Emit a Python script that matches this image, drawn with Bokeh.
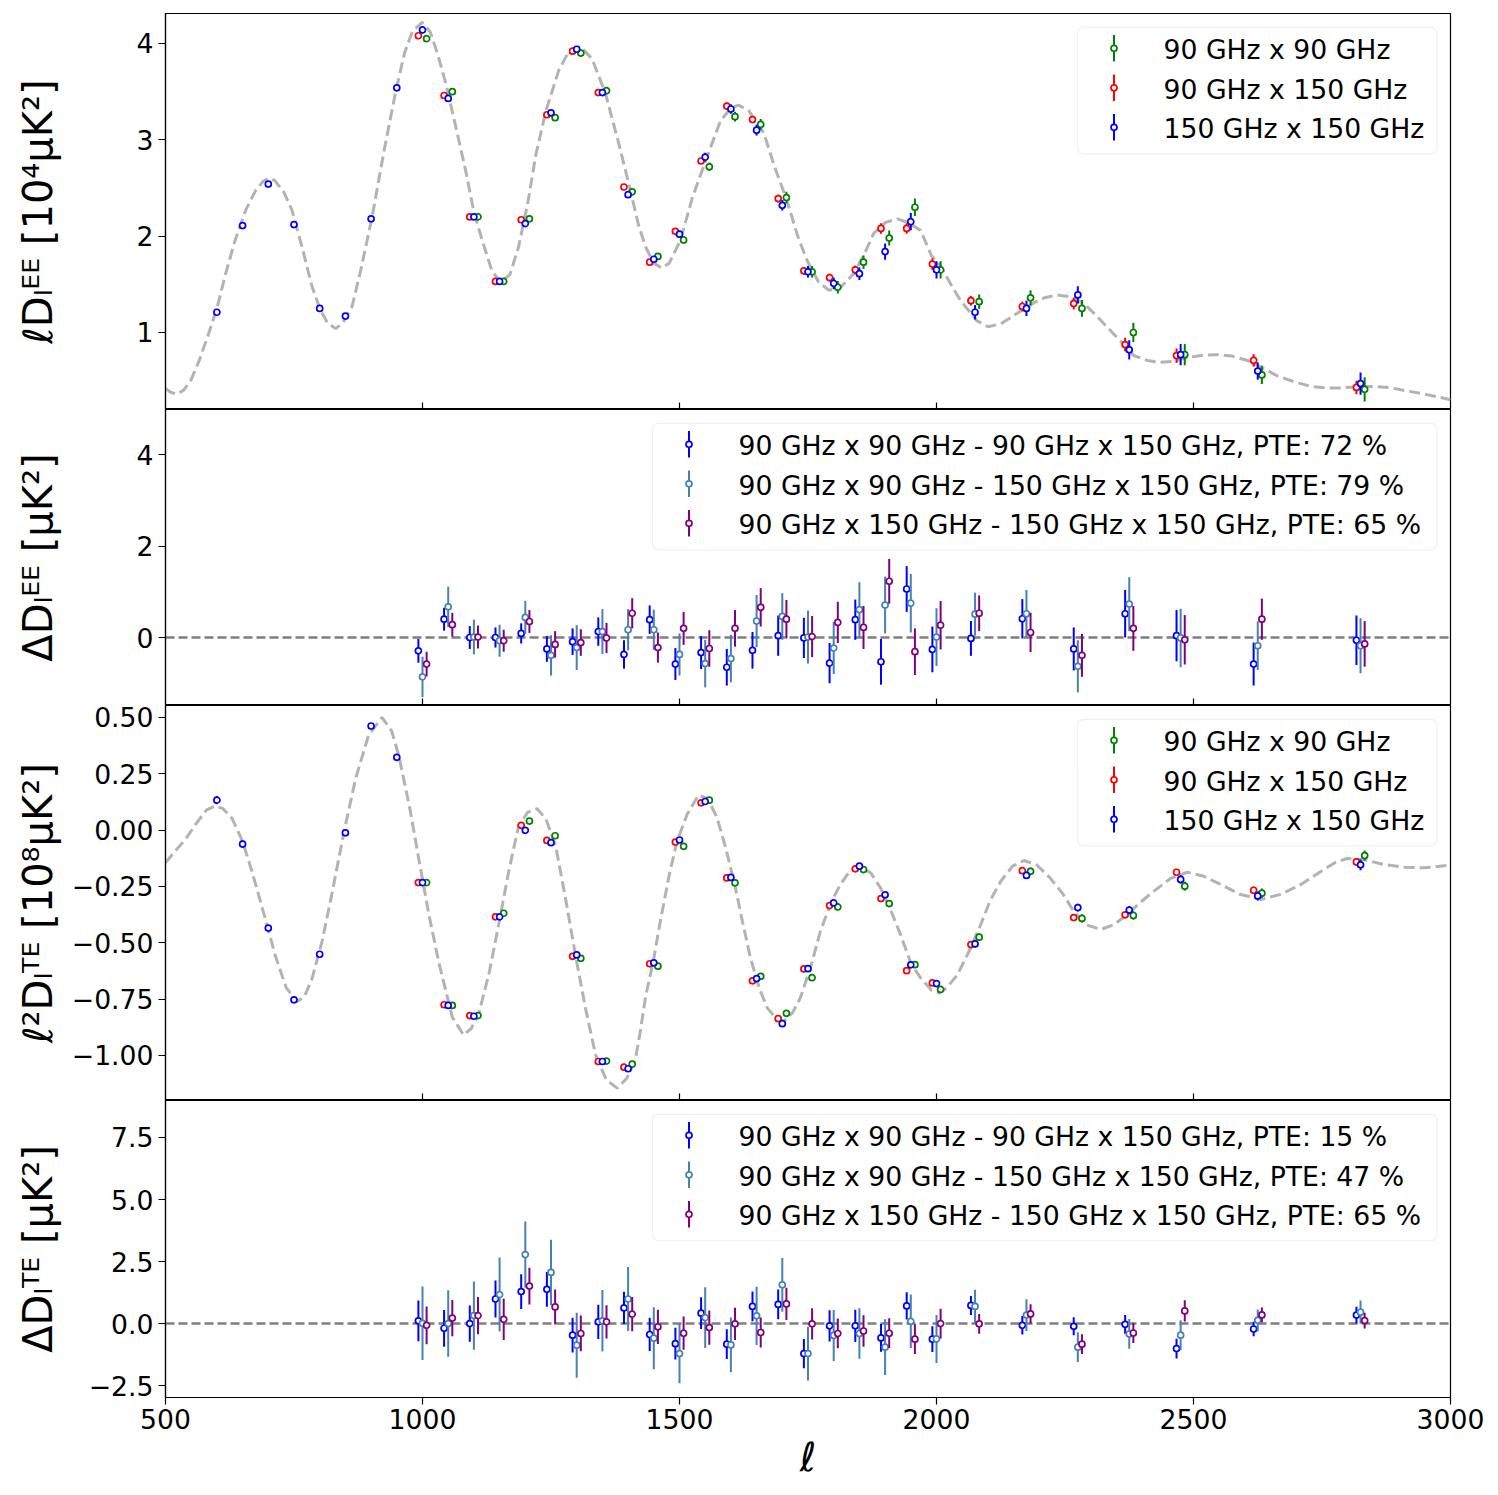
import numpy as np
from bokeh.plotting import figure
from bokeh.models import (Range1d, FixedTicker, CustomJSTickFormatter, Span,
                          BoxAnnotation, Label, ColumnDataSource)
from bokeh.layouts import column
from bokeh.embed import file_html
from bokeh.resources import INLINE

# ---------------- data ----------------
ell_low = [600, 650, 700, 750, 800, 850, 900, 950]
ell_bins = [1000, 1050, 1100, 1150, 1200, 1250, 1300, 1350, 1400, 1450, 1500,
            1550, 1600, 1650, 1700, 1750, 1800, 1850, 1900, 1950, 2000,
            2075, 2175, 2275, 2375, 2475, 2625, 2825]
x_shift = [-8, 0, 8]
x_ticks = [500, 1000, 1500, 2000, 2500, 3000]

# theory curves
ell_th_ee = [500, 510, 522, 535, 549, 565, 584, 600, 617, 635, 656, 675, 690, 701, 712, 730, 746,
             765, 785, 800, 815, 831, 845, 863, 880, 902, 925, 947, 965, 980, 999, 1015, 1030,
             1045, 1065, 1084, 1100, 1116, 1135, 1152, 1170, 1187, 1205, 1220, 1240, 1265, 1285,
             1307, 1330, 1356, 1380, 1401, 1420, 1434, 1450, 1465, 1480, 1502, 1525, 1554, 1580,
             1600, 1615, 1635, 1664, 1685, 1709, 1730, 1748, 1770, 1790, 1810, 1839, 1860, 1878,
             1900, 1924, 1945, 1969, 1990, 2008, 2030, 2047, 2079, 2100, 2125, 2157, 2190, 2210,
             2235, 2260, 2287, 2310, 2332, 2360, 2384, 2410, 2436, 2462, 2488, 2520, 2547, 2575,
             2605, 2635, 2663, 2695, 2728, 2760, 2786, 2820, 2851, 2880, 2903, 2950, 2994, 3000]
ee_th = [0.42, 0.38, 0.36, 0.40, 0.50, 0.70, 0.99, 1.25, 1.61, 1.95, 2.27, 2.47, 2.57, 2.60, 2.58,
         2.46, 2.27, 1.90, 1.48, 1.25, 1.10, 1.04, 1.10, 1.27, 1.65, 2.20, 2.88, 3.48, 3.90, 4.12,
         4.22, 4.12, 3.88, 3.59, 3.13, 2.68, 2.25, 1.96, 1.64, 1.52, 1.60, 1.89, 2.35, 2.83, 3.30,
         3.72, 3.92, 3.97, 3.84, 3.48, 3.00, 2.55, 2.12, 1.89, 1.72, 1.67, 1.72, 1.96, 2.40, 2.83,
         3.20, 3.33, 3.36, 3.30, 3.07, 2.72, 2.37, 2.00, 1.75, 1.53, 1.44, 1.45, 1.61, 1.82, 2.03,
         2.14, 2.18, 2.14, 2.06, 1.80, 1.69, 1.48, 1.33, 1.12, 1.06, 1.09, 1.20, 1.31, 1.36, 1.39,
         1.37, 1.30, 1.18, 1.055, 0.90, 0.76, 0.71, 0.69, 0.70, 0.74, 0.765, 0.77, 0.755, 0.71,
         0.63, 0.55, 0.49, 0.44, 0.425, 0.425, 0.435, 0.44, 0.43, 0.405, 0.36, 0.31, 0.30]

ell_th_te = [500, 520, 539, 560, 580, 597, 612, 630, 650, 669, 690, 714, 735, 756, 770, 785, 805,
             824, 848, 870, 895, 921, 940, 954, 975, 993, 1012, 1032, 1058, 1080, 1095, 1110, 1130,
             1149, 1168, 1187, 1205, 1223, 1240, 1259, 1278, 1298, 1318, 1337, 1358, 1379, 1398,
             1414, 1424, 1434, 1450, 1463, 1480, 1495, 1515, 1537, 1555, 1573, 1590, 1606, 1622,
             1638, 1655, 1671, 1688, 1703, 1720, 1735, 1755, 1774, 1795, 1813, 1832, 1852, 1872,
             1891, 1910, 1930, 1950, 1969, 1990, 2005, 2020, 2041, 2065, 2086, 2105, 2125, 2148,
             2170, 2195, 2220, 2245, 2267, 2290, 2320, 2345, 2371, 2397, 2423, 2455, 2488, 2520,
             2553, 2590, 2631, 2670, 2709, 2750, 2775, 2799, 2830, 2871, 2910, 2949, 2975, 3000]
te_th = [-0.145, -0.09, -0.04, 0.03, 0.09, 0.107, 0.095, 0.05, -0.05, -0.19, -0.36, -0.56, -0.70,
         -0.76, -0.74, -0.66, -0.49, -0.28, 0.0, 0.23, 0.42, 0.50, 0.44, 0.33, 0.10, -0.13, -0.37,
         -0.59, -0.83, -0.91, -0.88, -0.81, -0.63, -0.41, -0.18, 0.018, 0.08, 0.095, 0.05, -0.07,
         -0.30, -0.56, -0.80, -1.00, -1.11, -1.145, -1.10, -1.02, -0.89, -0.74, -0.57, -0.40,
         -0.20, -0.05, 0.07, 0.156, 0.14, 0.055, -0.08, -0.227, -0.40, -0.567, -0.70, -0.79,
         -0.835, -0.849, -0.81, -0.745, -0.61, -0.449, -0.32, -0.241, -0.18, -0.164, -0.19,
         -0.256, -0.35, -0.464, -0.59, -0.656, -0.71, -0.723, -0.70, -0.641, -0.53, -0.419,
         -0.31, -0.227, -0.16, -0.135, -0.155, -0.21, -0.28, -0.36, -0.42, -0.441, -0.42, -0.375,
         -0.32, -0.271, -0.215, -0.187, -0.205, -0.241, -0.285, -0.308, -0.285, -0.241, -0.18,
         -0.145, -0.126, -0.13, -0.153, -0.165, -0.167, -0.162, -0.155]

# panel 1: l D_l^EE [1e4 uK^2]
ee_low_150x150 = [1.21, 2.11, 2.54, 2.12, 1.25, 1.17, 2.18, 3.54]
ee_low_150x150_err = [0.012, 0.014, 0.015, 0.015, 0.014, 0.014, 0.016, 0.020]
ee_90x90 = [4.05, 3.50, 2.20, 1.53, 2.18, 3.23, 3.90, 3.51, 2.46, 1.79, 1.96, 2.72, 3.24, 3.16,
            2.40, 1.63, 1.47, 1.73, 1.98, 2.30, 1.65, 1.32, 1.36, 1.25, 1.00, 0.77, 0.56, 0.41]
ee_90x90_err = [0.03, 0.03, 0.03, 0.03, 0.03, 0.035, 0.035, 0.035, 0.035, 0.035, 0.04, 0.045,
                0.05, 0.055, 0.06, 0.06, 0.065, 0.07, 0.078, 0.09, 0.09, 0.075, 0.078, 0.087,
                0.10, 0.11, 0.095, 0.125]
ee_90x150 = [4.08, 3.46, 2.20, 1.53, 2.17, 3.26, 3.92, 3.49, 2.51, 1.73, 2.05, 2.78, 3.35, 3.21,
             2.39, 1.64, 1.57, 1.65, 2.08, 2.08, 1.71, 1.33, 1.27, 1.30, 0.875, 0.76, 0.71, 0.43]
ee_90x150_err = [0.02, 0.02, 0.02, 0.02, 0.02, 0.02, 0.02, 0.02, 0.025, 0.025, 0.025, 0.03,
                 0.035, 0.035, 0.04, 0.04, 0.04, 0.045, 0.055, 0.055, 0.06, 0.05, 0.05, 0.06,
                 0.07, 0.075, 0.065, 0.07]
ee_150x150 = [4.14, 3.43, 2.20, 1.53, 2.13, 3.28, 3.94, 3.49, 2.43, 1.76, 2.02, 2.82, 3.32, 3.10,
              2.32, 1.63, 1.51, 1.61, 1.84, 2.15, 1.65, 1.21, 1.25, 1.39, 0.82, 0.77, 0.60, 0.47]
ee_150x150_err = [0.035, 0.03, 0.03, 0.03, 0.03, 0.03, 0.03, 0.03, 0.03, 0.03, 0.035, 0.045,
                  0.05, 0.055, 0.055, 0.06, 0.06, 0.065, 0.085, 0.09, 0.09, 0.075, 0.08, 0.09,
                  0.10, 0.11, 0.09, 0.115]

# panel 2: Delta D_l^EE [uK^2]
dee_a = [-0.29, 0.40, 0.00, 0.00, 0.09, -0.25, -0.09, 0.13, -0.37, 0.39, -0.58, -0.33, -0.65,
         -0.28, 0.04, -0.01, -0.56, 0.39, -0.53, 1.06, -0.26, -0.02, 0.41, -0.25, 0.52, 0.04,
         -0.58, -0.06]
dee_a_err = [0.26, 0.25, 0.25, 0.22, 0.22, 0.28, 0.29, 0.31, 0.31, 0.31, 0.35, 0.36, 0.40, 0.40,
             0.44, 0.44, 0.44, 0.44, 0.50, 0.50, 0.50, 0.38, 0.43, 0.47, 0.52, 0.56, 0.47, 0.54]
dee_b = [-0.86, 0.67, 0.01, -0.07, 0.44, -0.39, -0.22, 0.13, 0.17, 0.17, -0.37, -0.57, -0.46,
         0.36, 0.46, 0.01, -0.23, 0.61, 0.71, 0.75, 0.01, 0.51, 0.52, -0.63, 0.73, -0.01, -0.18,
         -0.18]
dee_b_err = [0.44, 0.44, 0.38, 0.35, 0.36, 0.44, 0.49, 0.49, 0.45, 0.44, 0.46, 0.52, 0.52, 0.57,
             0.51, 0.58, 0.57, 0.60, 0.62, 0.64, 0.63, 0.47, 0.52, 0.57, 0.59, 0.64, 0.53, 0.60]
dee_c = [-0.58, 0.28, 0.01, -0.07, 0.35, -0.15, -0.11, -0.01, 0.53, -0.22, 0.20, -0.24, 0.20,
         0.66, 0.40, 0.02, 0.33, 0.22, 1.23, -0.31, 0.27, 0.53, 0.11, -0.39, 0.20, -0.05, 0.40,
         -0.14]
dee_c_err = [0.27, 0.26, 0.25, 0.24, 0.25, 0.29, 0.29, 0.33, 0.33, 0.33, 0.36, 0.40, 0.40, 0.42,
             0.42, 0.45, 0.45, 0.47, 0.49, 0.51, 0.53, 0.39, 0.43, 0.47, 0.49, 0.54, 0.45, 0.50]

# panel 3: l^2 D_l^TE [1e8 uK^2]
te_low_150x150 = [0.133, -0.062, -0.435, -0.753, -0.551, -0.012, 0.462, 0.323]
te_low_150x150_err = [0.018, 0.016, 0.014, 0.012, 0.012, 0.012, 0.012, 0.012]
te_90x90 = [-0.233, -0.778, -0.823, -0.369, 0.040, -0.025, -0.569, -1.025, -1.039, -0.604,
            -0.072, 0.133, -0.234, -0.649, -0.813, -0.655, -0.341, -0.175, -0.326, -0.597,
            -0.707, -0.475, -0.183, -0.392, -0.379, -0.249, -0.280, -0.113]
te_90x90_err = [0.008, 0.008, 0.008, 0.008, 0.009, 0.009, 0.009, 0.009, 0.010, 0.010, 0.011,
                0.011, 0.012, 0.012, 0.013, 0.013, 0.013, 0.014, 0.014, 0.015, 0.015, 0.016,
                0.017, 0.018, 0.019, 0.020, 0.021, 0.022]
te_90x150 = [-0.233, -0.775, -0.823, -0.385, 0.021, -0.046, -0.560, -1.027, -1.052, -0.593,
             -0.053, 0.121, -0.212, -0.669, -0.837, -0.616, -0.335, -0.172, -0.304, -0.624,
             -0.678, -0.508, -0.180, -0.388, -0.376, -0.187, -0.267, -0.141]
te_90x150_err = [0.006, 0.006, 0.006, 0.006, 0.006, 0.007, 0.007, 0.007, 0.007, 0.008, 0.008,
                 0.008, 0.009, 0.009, 0.009, 0.010, 0.010, 0.010, 0.011, 0.011, 0.011, 0.012,
                 0.013, 0.013, 0.014, 0.015, 0.016, 0.017]
te_150x150 = [-0.233, -0.778, -0.826, -0.385, -0.001, -0.056, -0.554, -1.027, -1.059, -0.589,
              -0.044, 0.127, -0.210, -0.659, -0.859, -0.615, -0.323, -0.160, -0.287, -0.598,
              -0.681, -0.505, -0.201, -0.344, -0.355, -0.219, -0.292, -0.154]
te_150x150_err = [0.008, 0.008, 0.008, 0.008, 0.008, 0.008, 0.009, 0.009, 0.009, 0.010, 0.010,
                  0.010, 0.011, 0.011, 0.012, 0.012, 0.012, 0.013, 0.013, 0.014, 0.014, 0.015,
                  0.016, 0.017, 0.018, 0.019, 0.020, 0.024]

# panel 4: Delta D_l^TE [uK^2]
dte_a = [0.11, -0.19, 0.00, 0.99, 1.29, 1.38, -0.47, 0.07, 0.63, -0.44, -0.81, 0.42, -0.83, 0.69,
         0.77, -1.21, -0.09, -0.09, -0.58, 0.71, -0.63, 0.73, -0.07, -0.11, -0.03, -1.01, -0.22,
         0.34]
dte_a_err = [0.82, 0.74, 0.73, 0.75, 0.70, 0.70, 0.70, 0.69, 0.65, 0.67, 0.64, 0.64, 0.60, 0.60,
             0.60, 0.59, 0.63, 0.65, 0.56, 0.55, 0.52, 0.38, 0.37, 0.36, 0.38, 0.40, 0.29, 0.34]
dte_b = [0.01, 0.00, 0.32, 1.17, 2.78, 2.06, -0.87, 0.11, 0.99, -0.59, -1.21, 0.24, -0.86, 0.31,
         1.56, -1.21, -0.48, -0.40, -0.95, 0.09, -0.62, 0.69, 0.34, -0.95, -0.42, -0.47, 0.13,
         0.46]
dte_b_err = [1.48, 1.34, 1.38, 1.49, 1.33, 1.32, 1.31, 1.24, 1.29, 1.25, 1.20, 1.22, 1.10, 1.17,
             1.08, 1.08, 1.03, 1.02, 1.12, 1.08, 0.97, 0.67, 0.64, 0.60, 0.60, 0.60, 0.44, 0.47]
dte_c = [-0.07, 0.22, 0.32, 0.17, 1.51, 0.67, -0.40, 0.07, 0.38, -0.13, -0.39, -0.16, -0.01,
         -0.36, 0.79, -0.01, -0.40, -0.30, -0.39, -0.63, 0.00, -0.01, 0.39, -0.83, -0.38, 0.51,
         0.35, 0.12]
dte_c_err = [0.76, 0.73, 0.75, 0.83, 0.74, 0.70, 0.72, 0.67, 0.69, 0.69, 0.67, 0.69, 0.65, 0.60,
             0.65, 0.63, 0.60, 0.63, 0.60, 0.60, 0.60, 0.40, 0.39, 0.40, 0.40, 0.43, 0.30, 0.32]

auto_labels = ["90 GHz x 90 GHz", "90 GHz x 150 GHz", "150 GHz x 150 GHz"]
auto_colors = ["green", "red", "blue"]
diff_colors = ["blue", "steelblue", "purple"]
pte_ee = [72, 79, 65]
pte_te = [15, 47, 65]
diff_names = ["90 GHz x 90 GHz - 90 GHz x 150 GHz",
              "90 GHz x 90 GHz - 150 GHz x 150 GHz",
              "90 GHz x 150 GHz - 150 GHz x 150 GHz"]

# ---------------- styling ----------------
FONT = "DejaVu Sans"
TICK_FS = "26.67px"
LABEL_FS = "40px"
LEG_FS = "26.67px"
FW = 1285
XR = (500, 3000)
MS = 6.0
MLW = 1.7
ELW = 2.0
LEFT = 165


def make_fig(yr, fh, top, bottom, ticks, ylabel, fmt_code, label_standoff, last=False):
    p = figure(x_range=Range1d(*XR), y_range=Range1d(*yr), frame_width=FW, frame_height=fh,
               min_border_left=LEFT, min_border_right=36, min_border_top=top,
               min_border_bottom=bottom, output_backend="svg", toolbar_location=None)
    p.xgrid.visible = False
    p.ygrid.visible = False
    p.background_fill_color = "white"
    p.border_fill_color = "white"
    p.outline_line_color = "black"
    p.outline_line_width = 1.2
    ya = p.yaxis[0]
    ya.ticker = FixedTicker(ticks=ticks)
    ya.formatter = CustomJSTickFormatter(code=fmt_code)
    ya.major_tick_out = 7
    ya.major_tick_in = 0
    ya.minor_tick_out = 0
    ya.minor_tick_in = 0
    ya.minor_tick_line_color = None
    ya.major_tick_line_width = 1.2
    ya.axis_line_width = 1.2
    ya.major_label_standoff = 5
    ya.major_label_text_font = FONT
    ya.major_label_text_font_size = TICK_FS
    ya.major_label_text_color = "black"
    ya.axis_label = ylabel
    ya.axis_label_text_font = FONT
    ya.axis_label_text_font_size = LABEL_FS
    ya.axis_label_text_font_style = "normal"
    ya.axis_label_text_color = "black"
    ya.axis_label_standoff = label_standoff
    xa = p.xaxis[0]
    if last:
        xa.ticker = FixedTicker(ticks=x_ticks)
        xa.minor_tick_out = 0
        xa.minor_tick_in = 0
        xa.minor_tick_line_color = None
        xa.major_tick_line_width = 1.2
        xa.axis_line_width = 1.2
        xa.major_tick_out = 7
        xa.major_tick_in = 0
        xa.major_label_standoff = 4
        xa.major_label_text_font = FONT
        xa.major_label_text_font_size = TICK_FS
        xa.major_label_text_color = "black"
        xa.axis_label = "ℓ"
        xa.axis_label_text_font = FONT
        xa.axis_label_text_font_size = LABEL_FS
        xa.axis_label_text_font_style = "italic"
        xa.axis_label_text_color = "black"
        xa.axis_label_standoff = 2
    else:
        xa.visible = False
        # inward tick marks along the shared bottom edge
        y0, y1 = yr
        tl = 7.0 * (y1 - y0) / fh
        inner = x_ticks[1:-1]
        p.segment(x0=inner, y0=[y0] * len(inner), x1=inner, y1=[y0 + tl] * len(inner),
                  line_color="black", line_width=1.2)
    return p


def errorbar(p, x, y, e, color):
    x = np.asarray(x, float)
    y = np.asarray(y, float)
    e = np.asarray(e, float)
    src = ColumnDataSource(dict(x=x, y=y, lo=y - e, hi=y + e))
    p.segment(x0="x", y0="lo", x1="x", y1="hi", source=src, line_color=color,
              line_width=ELW)
    p.scatter("x", "y", source=src, marker="circle", size=MS, line_color=color,
              line_width=MLW, fill_color="white")


def add_legend(p, labels, colors, box_left_px):
    y0, y1 = p.y_range.start, p.y_range.end
    fh = p.frame_height
    sx = (XR[1] - XR[0]) / FW
    sy = (y1 - y0) / fh
    X = lambda px: XR[0] + px * sx
    Y = lambda py: y1 - py * sy
    top = 13.8
    h = 126.5
    right = FW - 13.5
    p.add_layout(BoxAnnotation(left=X(box_left_px), right=X(right), top=Y(top),
                               bottom=Y(top + h), fill_color="white", fill_alpha=0.8,
                               line_color="#cccccc", line_width=1.2, border_radius=6,
                               level="underlay"))
    for i, (lab, col) in enumerate(zip(labels, colors)):
        ry = top + 21.0 + 39.5 * i
        mx = X(box_left_px + 36.5)
        p.segment(x0=[mx], y0=[Y(ry - 13.3)], x1=[mx], y1=[Y(ry + 13.3)],
                  line_color=col, line_width=ELW)
        p.scatter([mx], [Y(ry)], marker="circle", size=MS, line_color=col,
                  line_width=MLW, fill_color="white")
        p.add_layout(Label(x=X(box_left_px + 86), y=Y(ry + 1.5), text=lab,
                           text_baseline="middle", text_align="left", text_font=FONT,
                           text_font_size=LEG_FS, text_color="black"))


def shifted(k, xs):
    return [v + x_shift[k] for v in xs]


TH_KW = dict(line_color="#b3b3b3", line_width=3, line_dash="11 5")
ZERO_KW = dict(location=0, dimension="width", line_color="#7f7f7f", line_width=2.5,
               line_dash="9 4", level="underlay")

fmt2 = "return tick.toFixed(2).replace('-', '\u2212');"
fmt1 = "return tick.toFixed(1).replace('-', '\u2212');"
fmt0 = "return tick.toFixed(0).replace('-', '\u2212');"

# panel 1
p1 = make_fig((0.2007, 4.311), 396, 13, 0, [1, 2, 3, 4], "ℓDₗᴱᴱ [10⁴μK²]", fmt0, 73)
p1.line(ell_th_ee, ee_th, **TH_KW)
errorbar(p1, shifted(2, ell_bins), ee_90x90, ee_90x90_err, "green")
errorbar(p1, shifted(0, ell_bins), ee_90x150, ee_90x150_err, "red")
errorbar(p1, ell_low, ee_low_150x150, ee_low_150x150_err, "blue")
errorbar(p1, shifted(1, ell_bins), ee_150x150, ee_150x150_err, "blue")
add_legend(p1, auto_labels, auto_colors, 912)

# panel 2
p2 = make_fig((-1.486, 4.984), 296, 0, 0, [0, 2, 4], "ΔDₗᴱᴱ [μK²]", fmt0, 73)
p2.add_layout(Span(**ZERO_KW))
errorbar(p2, shifted(0, ell_bins), dee_a, dee_a_err, diff_colors[0])
errorbar(p2, shifted(1, ell_bins), dee_b, dee_b_err, diff_colors[1])
errorbar(p2, shifted(2, ell_bins), dee_c, dee_c_err, diff_colors[2])
add_legend(p2, ["%s, PTE: %d %%" % (n, v) for n, v in zip(diff_names, pte_ee)],
           diff_colors, 487)

# panel 3 (small transparent top border that overlaps panel 2, so "0.50" is not clipped)
p3 = make_fig((-1.2, 0.553), 395, 10, 0, [-1.0, -0.75, -0.5, -0.25, 0.0, 0.25, 0.5],
              "ℓ²Dₗᵀᴱ [10⁸μK²]", fmt2, 8)
p3.border_fill_alpha = 0.0
p3.margin = (-10, 0, 0, 0)
p3.line(ell_th_te, te_th, **TH_KW)
errorbar(p3, shifted(2, ell_bins), te_90x90, te_90x90_err, "green")
errorbar(p3, shifted(0, ell_bins), te_90x150, te_90x150_err, "red")
errorbar(p3, ell_low, te_low_150x150, te_low_150x150_err, "blue")
errorbar(p3, shifted(1, ell_bins), te_150x150, te_150x150_err, "blue")
add_legend(p3, auto_labels, auto_colors, 912)

# panel 4
p4 = make_fig((-2.98, 8.99), 297, 0, 0, [-2.5, 0.0, 2.5, 5.0, 7.5], "ΔDₗᵀᴱ [μK²]", fmt1, 25,
              last=True)
p4.add_layout(Span(**ZERO_KW))
errorbar(p4, shifted(0, ell_bins), dte_a, dte_a_err, diff_colors[0])
errorbar(p4, shifted(1, ell_bins), dte_b, dte_b_err, diff_colors[1])
errorbar(p4, shifted(2, ell_bins), dte_c, dte_c_err, diff_colors[2])
add_legend(p4, ["%s, PTE: %d %%" % (n, v) for n, v in zip(diff_names, pte_te)],
           diff_colors, 487)

layout = column(p1, p2, p3, p4, spacing=0)
open("out.html", "w").write(file_html(layout, INLINE))
